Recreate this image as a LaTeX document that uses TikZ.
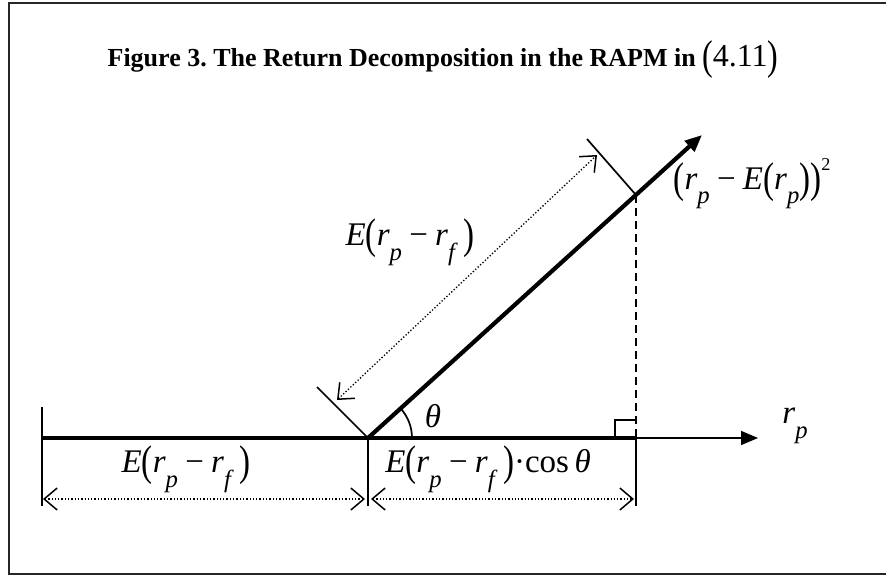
\documentclass[tikz,border=0pt]{standalone}
\usepackage{fontspec}
\usepackage{graphicx}
\setmainfont{Liberation Serif}
\usetikzlibrary{arrows.meta,calc}
\frenchspacing
\newcommand{\mi}[1]{\textit{#1}}
\newcommand{\sbx}[1]{\raisebox{-0.45em}{\scalebox{0.75}{\textit{#1}}}}
\newcommand{\LPar}{\raisebox{-0.1em}{\scalebox{1}[1.3]{(}}}
\newcommand{\RPar}{\raisebox{-0.1em}{\scalebox{1}[1.3]{)}}}
\newcommand{\mminus}{\hspace{0.22em}−\hspace{0.22em}}
\tikzset{
  thick line/.style={line width=4.2pt},
  thin line/.style={line width=1.7pt},
  dimline/.style={dotted, line width=1.3pt, {Straight Barb[length=13pt,width=22pt,line width=1.5pt]}-{Straight Barb[length=13pt,width=22pt,line width=1.5pt]}},
  mathlab/.style={inner sep=0pt, font=\fontsize{33}{36}\selectfont},
}
\begin{document}
\begin{tikzpicture}[x=1pt,y=1pt]
\useasboundingbox (0,0) rectangle (886,576);
% frame (left, top, bottom)
\draw[line width=2.2pt, black!85] (890,573) -- (9,573) -- (9,2) -- (890,2);
% title
\node (title) at (443,516) {\fontsize{26}{30}\selectfont\bfseries Figure 3. The Return Decomposition in the RAPM in {\mdseries\fontsize{32}{34}\selectfont\LPar4.11\RPar}};
% key points
\coordinate (O) at (368,138);
\coordinate (L) at (42,138);
\coordinate (Q) at (636,138);
\coordinate (P) at (636,381);
\coordinate (T) at (702,441);
\coordinate (A) at (758,138);
% axis
\draw[thin line, -{Triangle[length=17pt,width=14pt]}] (Q) -- (A);
\draw[thick line] (L) -- (Q);
% diagonal
\draw[thick line, -{Triangle[length=17pt,width=14pt]}] (O) -- (T);
% dashed projection
\draw[thin line, dash pattern=on 8pt off 5pt] (P) -- (Q);
% right angle mark
\coordinate (RA1) at (615,156);
\coordinate (RA2) at (636,156);
\coordinate (RA0) at (615,138);
\draw[line width=2.2pt] (RA0) -- (RA1) -- (RA2);
% angle arc
\draw[thin line] ($(O)+(44,0)$) arc[start angle=0, end angle=42.2, radius=44];
% perpendicular ticks
\coordinate (O2) at ($(O)+(-51,51)$);
\coordinate (P2) at ($(P)+(-49,56)$);
\draw[thin line] (O) -- (O2);
\draw[thin line] (P) -- (P2);
% dotted arrow along diagonal
\coordinate (D1) at (337,176);
\coordinate (D2) at (597,421);
\draw[dimline] (D1) -- (D2);
% vertical extension lines
\coordinate (L2) at (42,169);
\coordinate (Lb) at (42,70);
\coordinate (Ob) at (368,70);
\coordinate (Qb) at (636,70);
\draw[thin line] (L2) -- (Lb);
\draw[thin line] (O) -- (Ob);
\draw[thin line] (Q) -- (Qb);
% dimension arrows
\coordinate (d1a) at (43,77);
\coordinate (d1b) at (365,77);
\coordinate (d2a) at (371,77);
\coordinate (d2b) at (634,77);
\draw[dimline] (d1a) -- (d1b);
\draw[dimline] (d2a) -- (d2b);
% labels
\node[mathlab] (lab1) at (410,334) {\mi{E}\LPar\mi{r}\sbx{p}\mminus\mi{r}\sbx{f}\,\RPar};
\node[mathlab] (lab2) at (186,107) {\mi{E}\LPar\mi{r}\sbx{p}\mminus\mi{r}\sbx{f}\,\RPar};
\node[mathlab] (lab3) at (488,107) {\mi{E}\LPar\mi{r}\sbx{p}\mminus\mi{r}\sbx{f}\,\RPar·cos\,\mi{θ}};
\node[mathlab] (lab4) at (433,160) {\mi{θ}};
\node[mathlab] (lab5) at (752,392) {\LPar\mi{r}\sbx{p}\mminus\mi{E}\LPar\mi{r}\sbx{p}\RPar\RPar\raisebox{0.55em}{\scalebox{0.55}{2}}};
\node[mathlab] (lab6) at (795,150) {\mi{r}\sbx{p}};
\end{tikzpicture}
\end{document}
